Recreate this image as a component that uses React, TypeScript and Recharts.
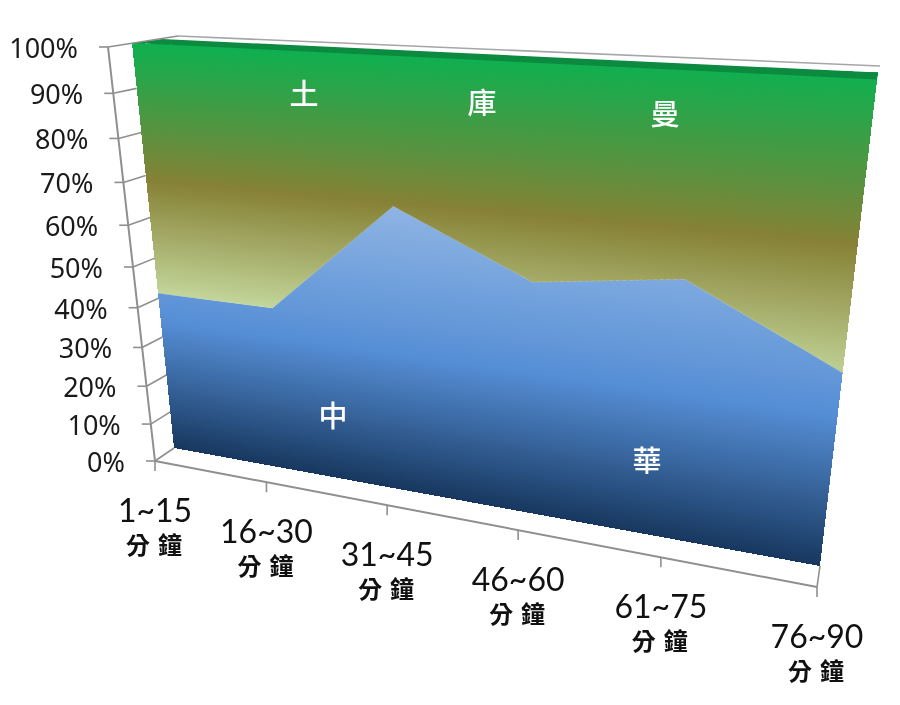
import React from 'react';
import { AreaChart, Area, LineChart, Line, XAxis, YAxis, Customized } from 'recharts';

// values, percent per time band
const periods = ['1~15', '16~30', '31~45', '46~60', '61~75', '76~90'];
const periodUnit = '分鐘';
const chinaTaipei = [41.3, 41.2, 68, 54.4, 58.5, 43];
const turkmenistan = [58.7, 58.8, 32, 45.6, 41.5, 57];
const percentTicks = [0, 10, 20, 30, 40, 50, 60, 70, 80, 90, 100];

const tableData = periods.map((period, i) => ({
  period,
  china: chinaTaipei[i],
  turkmen: turkmenistan[i],
}));

const W = 900;
const H = 705;
const PLOT_W = 900;
const PLOT_H = 600;
const AXIS_COLOR = '#8f8f8f';
const CJK = '"Noto Sans CJK TC", "Noto Sans", sans-serif';

type Pt = [number, number];

// corners of the tilted front face: TL, TR, BR, BL
const face: Pt[] = [[132, 43], [878, 72.5], [820, 566], [174, 448]];

// unit square -> quad, gives the numbers for matrix3d as well
const solveQuad = (q: Pt[]) => {
  const [[x0, y0], [x1, y1], [x2, y2], [x3, y3]] = q;
  const dx1 = x1 - x2;
  const dx2 = x3 - x2;
  const sx = x0 - x1 + x2 - x3;
  const dy1 = y1 - y2;
  const dy2 = y3 - y2;
  const sy = y0 - y1 + y2 - y3;
  const det = dx1 * dy2 - dx2 * dy1;
  const g = (sx * dy2 - dx2 * sy) / det;
  const h = (dx1 * sy - sx * dy1) / det;
  return {
    a: x1 - x0 + g * x1,
    b: x3 - x0 + h * x3,
    c: x0,
    d: y1 - y0 + g * y1,
    e: y3 - y0 + h * y3,
    f: y0,
    g,
    h,
  };
};

const m = solveQuad(face);
const faceMatrix = `matrix3d(${[
  m.a / PLOT_W, m.d / PLOT_W, 0, m.g / PLOT_W,
  m.b / PLOT_H, m.e / PLOT_H, 0, m.h / PLOT_H,
  0, 0, 1, 0,
  m.c, m.f, 0, 1,
].join(',')})`;

const onFace = (u: number, v: number): Pt => {
  const w = m.g * u + m.h * v + 1;
  return [(m.a * u + m.b * v + m.c) / w, (m.d * u + m.e * v + m.f) / w];
};

// point along a receding line, w is the perspective weight of the far end
const along = (p0: Pt, p1: Pt, w: number, t: number): Pt => {
  const den = 1 - t + t * w;
  return [
    ((1 - t) * p0[0] + t * w * p1[0]) / den,
    ((1 - t) * p0[1] + t * w * p1[1]) / den,
  ];
};

const yAxisTop: Pt = [108, 47];
const origin: Pt = [155, 461];
const xAxisEnd: Pt = [817, 587];
const backTop: Pt = [178, 36];
const backTopEnd: Pt = [880, 66];

const yAxisPoint = (pct: number) => along(yAxisTop, origin, 1.134, 1 - pct / 100);
const xAxisPoint = (i: number) => along(origin, xAxisEnd, 0.81, i / (periods.length - 1));

const YTick = (props: any) => {
  const pct = props.payload.value;
  const [x, y] = yAxisPoint(pct);
  const [ex, ey] = pct === 100 ? backTop : onFace(0, 1 - pct / 100);
  return (
    <g>
      <line x1={x - 9} y1={y} x2={x} y2={y} stroke={AXIS_COLOR} strokeWidth={1.6} />
      <line x1={x} y1={y} x2={ex} y2={ey} stroke={AXIS_COLOR} strokeWidth={1.6} />
      <text
        x={x - 30}
        y={y + 11}
        textAnchor="end"
        fontFamily='"Noto Sans", sans-serif'
        fontSize={27}
        fill="#1a1a1a"
      >
        {pct}%
      </text>
    </g>
  );
};

const XTick = (props: any) => {
  const i = periods.indexOf(props.payload.value);
  const [x, y] = xAxisPoint(i);
  return (
    <g>
      <line x1={x} y1={y} x2={x} y2={y + 10} stroke={AXIS_COLOR} strokeWidth={1.6} />
      <text
        x={x}
        y={y + 61}
        textAnchor="middle"
        fontFamily="Lato, sans-serif"
        fontSize={32}
        fill="#111"
      >
        {props.payload.value}
      </text>
      <text
        x={x + 3}
        y={y + 93}
        textAnchor="middle"
        fontFamily={CJK}
        fontWeight={700}
        fontSize={24}
        letterSpacing={8}
        fill="#111"
      >
        {periodUnit}
      </text>
    </g>
  );
};

// axis frame and top side of the block, none of it moves with the data
const Frame = () => {
  const [tlx, tly] = face[0];
  const [trx, try_] = face[1];
  return (
    <g>
      <polygon points={`${tlx},${tly} 162,39 ${trx},${try_} ${trx - 1},${try_ + 7}`} fill="#0b8a40" />
      <line x1={yAxisTop[0]} y1={yAxisTop[1]} x2={origin[0]} y2={origin[1]} stroke={AXIS_COLOR} strokeWidth={2} />
      <line x1={origin[0]} y1={origin[1]} x2={xAxisEnd[0]} y2={xAxisEnd[1]} stroke={AXIS_COLOR} strokeWidth={2} />
      <line x1={backTop[0]} y1={backTop[1]} x2={backTopEnd[0]} y2={backTopEnd[1]} stroke="#a6a6a6" strokeWidth={1.6} />
      <line x1={xAxisEnd[0]} y1={xAxisEnd[1]} x2={face[2][0]} y2={face[2][1]} stroke={AXIS_COLOR} strokeWidth={1.6} />
    </g>
  );
};

const seriesChars = [
  { text: '土', x: 304, y: 105 },
  { text: '庫', x: 482, y: 114 },
  { text: '曼', x: 665, y: 125 },
  { text: '中', x: 333, y: 427 },
  { text: '華', x: 647, y: 472 },
];

const SeriesChars = () => (
  <g>
    {seriesChars.map((c) => (
      <text
        key={c.text}
        x={c.x}
        y={c.y}
        textAnchor="middle"
        fontFamily={CJK}
        fontWeight={500}
        fontSize={29}
        fill="#fff"
      >
        {c.text}
      </text>
    ))}
  </g>
);

export default function App() {
  return (
    <div style={{ position: 'absolute', left: 0, top: 0, width: W, height: H, overflow: 'hidden', background: '#fff' }}>
      <div style={{ position: 'absolute', left: 0, top: 0, transformOrigin: '0 0', transform: faceMatrix }}>
        <AreaChart
          width={PLOT_W}
          height={PLOT_H}
          data={tableData}
          stackOffset="expand"
          margin={{ top: 0, right: 0, bottom: 0, left: 0 }}
        >
          <defs>
            <linearGradient id="chinaFill" x1="0" y1="0" x2="0" y2="1">
              <stop offset="0%" stopColor="#8eb4e3" />
              <stop offset="50%" stopColor="#558ed5" />
              <stop offset="100%" stopColor="#17375e" />
            </linearGradient>
            <linearGradient id="turkmenFill" x1="0" y1="0" x2="0" y2="1">
              <stop offset="0%" stopColor="#0db050" />
              <stop offset="53%" stopColor="#868135" />
              <stop offset="100%" stopColor="#c3d69b" />
            </linearGradient>
          </defs>
          <XAxis dataKey="period" hide />
          <YAxis hide domain={[0, 1]} />
          <Area
            dataKey="china"
            stackId="a"
            type="linear"
            stroke="none"
            fill="url(#chinaFill)"
            fillOpacity={1}
            isAnimationActive={false}
          />
          <Area
            dataKey="turkmen"
            stackId="a"
            type="linear"
            stroke="none"
            fill="url(#turkmenFill)"
            fillOpacity={1}
            isAnimationActive={false}
          />
        </AreaChart>
      </div>
      <div style={{ position: 'absolute', left: 0, top: 0 }}>
        <LineChart width={W} height={H} data={tableData} margin={{ top: 0, right: 0, bottom: 0, left: 0 }}>
          <XAxis dataKey="period" axisLine={false} tickLine={false} interval={0} tick={XTick} />
          <YAxis
            domain={[0, 100]}
            ticks={percentTicks}
            axisLine={false}
            tickLine={false}
            interval={0}
            tick={YTick}
          />
          {/* invisible, only there so the y axis builds its ticks */}
          <Line dataKey="china" stroke="none" dot={false} activeDot={false} isAnimationActive={false} />
          <Customized component={Frame} />
          <Customized component={SeriesChars} />
        </LineChart>
      </div>
    </div>
  );
}
